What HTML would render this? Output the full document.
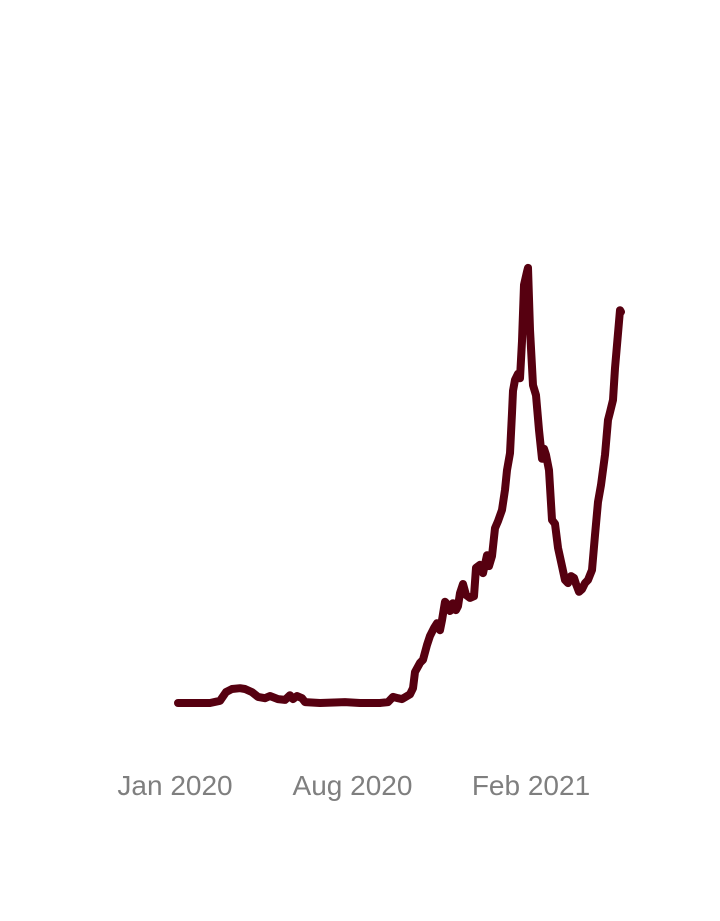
<!DOCTYPE html>
<html><head><meta charset="utf-8"><style>
html,body{margin:0;padding:0;background:#fff;}
svg{display:block;}
text{font-family:"Liberation Sans",sans-serif;}
</style></head><body>
<svg id="chart" width="720" height="921" viewBox="0 0 720 921" xmlns="http://www.w3.org/2000/svg">
<g id="xaxis"></g>
<g id="series"></g>
</svg>
<script>
// days since start of series
const days = [0,32,42,48,54,62,67,74,80,87,92,100,107,112,115,119,124,127,142,167,182,202,210,215,220,224,232,235,237,242,245,249,252,256,259,262,264,267,270,272,275,278,280,282,285,288,292,296,298,302,305,309,311,314,317,320,324,327,329,332,334,335,337,340,342,344,346,349,350,352,355,358,361,364,366,368,371,374,377,380,384,387,390,393,396,398,401,404,407,410,414,417,420,423,427,430,432,435,437,439,442,443];
const values = [0,0,0.5,2.5,3.2,3.4,3.2,2.5,1.4,1.1,1.6,0.9,0.7,1.8,0.9,1.6,1.1,0.2,0,0.2,0,0,0.2,1.4,1.1,0.9,2.0,3.4,7.1,9.2,9.9,13.3,15.4,17.2,18.3,16.7,19.0,23.2,22.5,21.1,22.9,21.3,22.2,25.2,27.3,24.8,24.1,24.5,31.0,31.7,29.8,33.9,31.4,33.7,40.1,41.7,44.3,48.9,53.4,57.3,66.5,71.6,74.1,75.5,74.5,83.0,95.9,98.9,99.8,85.6,72.9,70.6,62.6,56.0,58.3,56.9,53.4,42.0,41.1,35.6,31.4,28.2,27.5,29.1,28.7,27.3,25.5,26.1,27.5,28.2,30.5,38.5,46.1,50.0,56.9,64.9,66.7,69.5,76.8,82.1,90.1,89.7];
const tickLabels = ["Jan 2020","Aug 2020","Feb 2021"];
const tickDays = [-3,174.5,353];

const x = d => 178 + d * 1.0;
const y = v => 703 - v * 4.36;
const NS = "http://www.w3.org/2000/svg";

const xg = document.getElementById('xaxis');
tickLabels.forEach((lab, i) => {
  const t = document.createElementNS(NS, 'text');
  t.setAttribute('x', x(tickDays[i]));
  t.setAttribute('y', 795);
  t.setAttribute('text-anchor', 'middle');
  t.setAttribute('font-size', '28');
  t.setAttribute('fill', '#7f7f7f');
  t.textContent = lab;
  
  
  xg.appendChild(t);
});

const sg = document.getElementById('series');
const p = document.createElementNS(NS, 'path');
p.setAttribute('d', days.map((d, i) => (i ? 'L' : 'M') + x(d).toFixed(1) + ' ' + y(values[i]).toFixed(1)).join(' '));
p.setAttribute('fill', 'none');
p.setAttribute('stroke', '#560010');
p.setAttribute('stroke-width', '8');
p.setAttribute('stroke-linejoin', 'round');
p.setAttribute('stroke-linecap', 'round');


sg.appendChild(p);
</script>
</body></html>
